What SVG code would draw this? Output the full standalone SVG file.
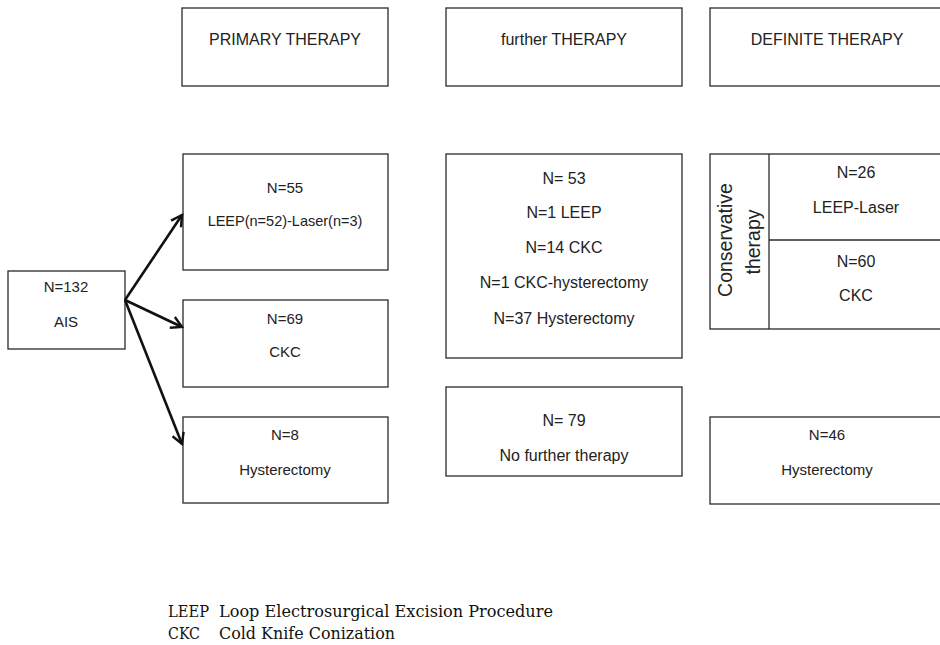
<svg xmlns="http://www.w3.org/2000/svg" width="940" height="645" viewBox="0 0 940 645">
<defs>
<style>
.box{fill:#fff;stroke:#2a2a2a;stroke-width:1.3}
.t{font-family:"Liberation Sans",Arial,sans-serif;font-size:15px;fill:#222;text-anchor:middle}
.s{font-size:14.5px}
.h{font-family:"Liberation Sans",Arial,sans-serif;font-size:16px;fill:#222;text-anchor:middle}
.m{font-family:"Liberation Sans",Arial,sans-serif;font-size:16px;fill:#222;text-anchor:middle}
.v{font-family:"Liberation Sans",Arial,sans-serif;font-size:19.5px;fill:#222;text-anchor:middle}
.leg{font-family:"DejaVu Serif","Liberation Serif",serif;font-size:16.5px;fill:#111}
.arr{fill:none;stroke:#111;stroke-width:2.6;marker-end:url(#ah)}
</style>
<marker id="ah" viewBox="0 0 12 12" refX="10" refY="6" markerWidth="5.5" markerHeight="5.5" orient="auto" markerUnits="strokeWidth">
<path d="M1,1 L10,6 L1,11" fill="none" stroke="#111" stroke-width="2"/>
</marker>
</defs>
<rect width="940" height="645" fill="#fff"/>

<g id="hdr-primary"><rect class="box" x="182" y="8" width="206" height="78"/><text class="h" x="285" y="45">PRIMARY THERAPY</text></g>
<g id="hdr-further"><rect class="box" x="446" y="8" width="236" height="78"/><text class="h" x="564" y="45">further THERAPY</text></g>
<g id="hdr-definite"><rect class="box" x="710" y="8" width="240" height="78"/><text class="h" x="827" y="45">DEFINITE THERAPY</text></g>

<g id="ais"><rect class="box" x="8" y="271" width="117" height="78"/><text class="t" x="66" y="292">N=132</text><text class="t" x="66" y="327">AIS</text></g>

<g id="p-leep"><rect class="box" x="183" y="154" width="205" height="116"/><text class="t" x="285" y="193">N=55</text><text class="t s" x="285" y="226">LEEP(n=52)-Laser(n=3)</text></g>
<g id="p-ckc"><rect class="box" x="183" y="300" width="205" height="87"/><text class="t" x="285" y="324">N=69</text><text class="t" x="285" y="357">CKC</text></g>
<g id="p-hyst"><rect class="box" x="183" y="417" width="205" height="86"/><text class="t" x="285" y="440">N=8</text><text class="t" x="285" y="475">Hysterectomy</text></g>

<g id="f-53"><rect class="box" x="446" y="154" width="236" height="204"/>
<text class="m" x="564" y="184">N= 53</text>
<text class="m" x="564" y="218">N=1 LEEP</text>
<text class="m" x="564" y="253">N=14 CKC</text>
<text class="m" x="564" y="288">N=1 CKC-hysterectomy</text>
<text class="m" x="564" y="324">N=37 Hysterectomy</text></g>
<g id="f-79"><rect class="box" x="446" y="387" width="236" height="89"/><text class="m" x="564" y="426">N= 79</text><text class="m" x="564" y="461">No further therapy</text></g>

<g id="d-cons"><rect class="box" x="710" y="154" width="240" height="175"/>
<line x1="769" y1="154" x2="769" y2="329" stroke="#2a2a2a" stroke-width="1.3"/>
<line x1="769" y1="240" x2="940" y2="240" stroke="#2a2a2a" stroke-width="1.3"/>
<text class="v" transform="translate(732,240) rotate(-90)">Conservative</text>
<text class="v" transform="translate(760,242) rotate(-90)">therapy</text>
<text class="m" x="856" y="178">N=26</text><text class="m" x="856" y="213">LEEP-Laser</text>
<text class="m" x="856" y="267">N=60</text><text class="m" x="856" y="301">CKC</text></g>
<g id="d-hyst"><rect class="box" x="710" y="417" width="240" height="87"/><text class="t" x="827" y="440">N=46</text><text class="t" x="827" y="475">Hysterectomy</text></g>

<g id="connectors">
<line class="arr" x1="125" y1="300" x2="182" y2="215"/>
<line class="arr" x1="125" y1="300" x2="182" y2="327"/>
<line class="arr" x1="125" y1="300" x2="182" y2="444"/>
</g>

<g id="legend">
<text class="leg" x="168" y="617" textLength="41" lengthAdjust="spacingAndGlyphs">LEEP</text><text class="leg" x="219" y="617" textLength="334" lengthAdjust="spacingAndGlyphs">Loop Electrosurgical Excision Procedure</text>
<text class="leg" x="168" y="639" textLength="32" lengthAdjust="spacingAndGlyphs">CKC</text><text class="leg" x="219" y="639" textLength="176" lengthAdjust="spacingAndGlyphs">Cold Knife Conization</text>
</g>
</svg>
